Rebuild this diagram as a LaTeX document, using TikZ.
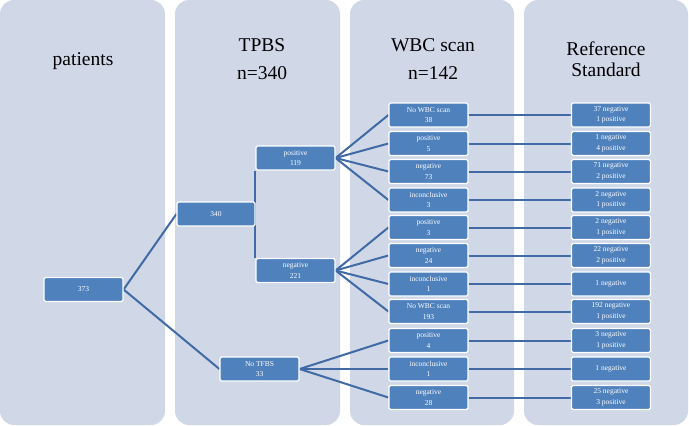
\documentclass[tikz,border=0pt]{standalone}
\usepackage{fontspec}
\setmainfont{Liberation Serif}
\pgfdeclarelayer{bg}
\pgfdeclarelayer{lines}
\pgfsetlayers{bg,lines,main}
\definecolor{panelc}{RGB}{208,216,232}
\definecolor{boxc}{RGB}{79,129,189}
\definecolor{connc}{RGB}{65,106,165}
\begin{document}
\begin{tikzpicture}[x=1pt,y=-1pt,
  panelbox/.style={fill=panelc, rounded corners=14pt},
  box/.style={fill=boxc, draw=white, line width=1.2pt, rounded corners=1.5pt,
    minimum width=79pt, minimum height=24pt, inner sep=0pt, text=white,
    font=\fontsize{7.5}{10.5}\selectfont, align=center},
  head/.style={font=\fontsize{19.5}{22}\selectfont, anchor=base, inner sep=0pt},
  conn/.style={draw=connc, line width=2pt}]
\useasboundingbox (0,0) rectangle (689,426);
\begin{pgfonlayer}{bg}
  \path[panelbox] (0,0) rectangle (165,425);
  \path[panelbox] (175,0) rectangle (340,425);
  \path[panelbox] (350,0) rectangle (514,425);
  \path[panelbox] (524,0) rectangle (688,425);
\end{pgfonlayer}
% headers
\node[head] (h1) at (83,65) {patients};
\node[head] (h2a) at (262,51) {TPBS};
\node[head] (h2b) at (262,79) {n=340};
\node[head] (h3a) at (433,51) {WBC scan};
\node[head] (h3b) at (433,79) {n=142};
\node[head] (h4a) at (606,55) {Reference};
\node[head] (h4b) at (606,76) {Standard};
% tree
\node[box] (n373) at (83.5,289.5) {373};
\node[box, minimum width=78pt] (n340) at (216,214) {340};
\node[box] (pos) at (295.5,158) {positive\\119};
\node[box] (neg) at (295.5,270.5) {negative\\221};
\node[box] (notp) at (259.5,369) {No TFBS\\33};
% WBC column
\node[box] (w1) at (428.5,115) {No WBC scan\\38};
\node[box] (w2) at (428.5,143.5) {positive\\5};
\node[box] (w3) at (428.5,171.5) {negative\\73};
\node[box] (w4) at (428.5,200) {inconclusive\\3};
\node[box] (w5) at (428.5,227.5) {positive\\3};
\node[box] (w6) at (428.5,255.5) {negative\\24};
\node[box] (w7) at (428.5,284) {inconclusive\\1};
\node[box] (w8) at (428.5,311.5) {No WBC scan\\193};
\node[box] (w9) at (428.5,340.5) {positive\\4};
\node[box] (w10) at (428.5,369) {inconclusive\\1};
\node[box] (w11) at (428.5,397.5) {negative\\28};
% reference column
\node[box] (r1) at (611,115) {37 negative\\1 positive};
\node[box] (r2) at (611,143.5) {1 negative\\4 positive};
\node[box] (r3) at (611,171.5) {71 negative\\2 positive};
\node[box] (r4) at (611,200) {2 negative\\1 positive};
\node[box] (r5) at (611,227.5) {2 negative\\1 positive};
\node[box] (r6) at (611,255.5) {22 negative\\2 positive};
\node[box] (r7) at (611,284) {1 negative};
\node[box] (r8) at (611,311.5) {192 negative\\1 positive};
\node[box] (r9) at (611,340.5) {3 negative\\1 positive};
\node[box] (r10) at (611,369) {1 negative};
\node[box] (r11) at (611,397.5) {25 negative\\3 positive};
\begin{pgfonlayer}{lines}
  \draw[conn] (n373.east) -- (n340.west);
  \draw[conn] (n373.east) -- (notp.west);
  \draw[conn] (pos.south west) -- (neg.north west);
  \draw[conn] (n340.east) -- (pos.south west |- n340.east);
  \foreach \i in {1,...,4} {\draw[conn] (pos.east) -- (w\i.west);}
  \foreach \i in {5,...,8} {\draw[conn] (neg.east) -- (w\i.west);}
  \foreach \i in {9,10,11} {\draw[conn] (notp.east) -- (w\i.west);}
  \foreach \i in {1,...,11} {\draw[conn] (w\i.east) -- (r\i.west);}
\end{pgfonlayer}
\end{tikzpicture}
\end{document}
